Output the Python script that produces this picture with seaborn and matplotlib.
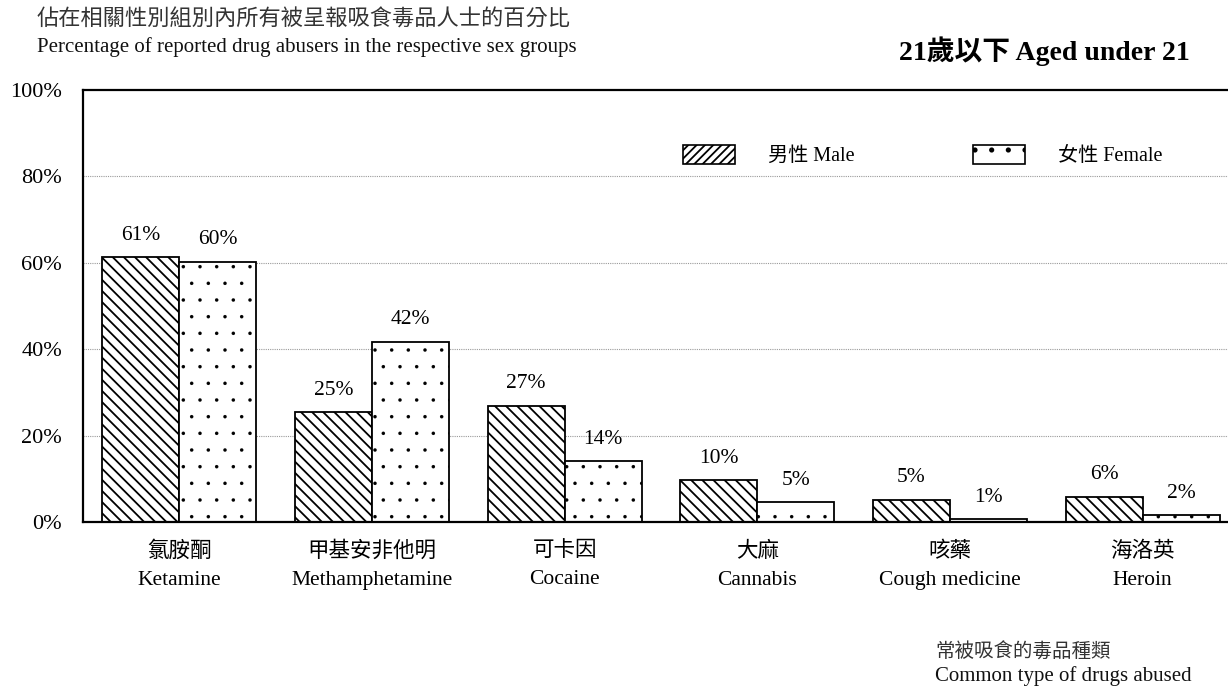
import numpy as np
import pandas as pd
import matplotlib
matplotlib.use("Agg")
import matplotlib.pyplot as plt
from matplotlib.patches import Patch
import seaborn as sns

# Drug categories (Chinese name / English name)
drugs_zh = ["氯胺酮", "甲基安非他明", "可卡因", "大麻", "咳藥", "海洛英"]
drugs_en = ["Ketamine", "Methamphetamine", "Cocaine", "Cannabis", "Cough medicine", "Heroin"]

# Percentage of reported drug abusers aged under 21, by sex
male_pct = [61.3, 25.4, 26.9, 9.7, 5.1, 5.8]
female_pct = [60.2, 41.7, 14.1, 4.6, 0.6, 1.6]

sex_labels = ["男性 Male", "女性 Female"]
y_ticks = [0, 20, 40, 60, 80, 100]

sns.set_theme(style="white")
plt.rcParams["font.family"] = ["Liberation Serif", "Noto Sans CJK TC", "DejaVu Sans"]
plt.rcParams["text.color"] = "black"
plt.rcParams["hatch.linewidth"] = 1.3
plt.rcParams["hatch.color"] = "black"

categories = [f"{zh}\n{en}" for zh, en in zip(drugs_zh, drugs_en)]
df = pd.DataFrame({
    "drug": categories * 2,
    "sex": [sex_labels[0]] * len(categories) + [sex_labels[1]] * len(categories),
    "pct": male_pct + female_pct,
})

fig = plt.figure(figsize=(12.28, 6.86), dpi=100)
ax = fig.add_axes([83 / 1228, 1 - 522 / 686, (1239 - 83) / 1228, 432 / 686])

sns.barplot(data=df, x="drug", y="pct", hue="sex", order=categories,
            hue_order=sex_labels, palette=["white", "white"], edgecolor="black",
            linewidth=1.3, width=0.8, saturation=1, legend=False, ax=ax)


def style_hatch(artist, hatch, lw):
    artist.set_hatch(hatch)
    if hasattr(artist, "set_hatch_linewidth"):
        artist.set_hatch_linewidth(lw)
    else:
        artist._hatch_linewidth = lw


hatch_styles = [("\\\\\\", 1.3), (".", 0.1)]
for container, (hatch, lw) in zip(ax.containers, hatch_styles):
    for bar in container:
        style_hatch(bar, hatch, lw)
        bar.set_edgecolor("black")
    ax.bar_label(container, labels=[f"{v:.0f}%" for v in container.datavalues],
                 padding=9, fontsize=15.5, color="black")

ax.set_ylim(0, 100)
ax.set_xlim(-0.5, len(categories) - 0.5)
ax.set_yticks(y_ticks)
ax.set_yticklabels([f"{t}%" for t in y_ticks])
ax.tick_params(axis="y", direction="in", length=5, width=1.2, pad=15, labelsize=16,
               colors="black")
ax.tick_params(axis="x", length=0, pad=14, labelsize=15.5, labelcolor="black")
for lbl in ax.get_xticklabels():
    lbl.set_linespacing(1.65)
ax.set_xlabel("")
ax.set_ylabel("")

for t in y_ticks[1:-1]:
    ax.axhline(t, color="#9a9a9a", linestyle=(0, (1, 1)), linewidth=0.8, zorder=0)

for side in ["left", "top", "bottom"]:
    ax.spines[side].set_visible(True)
    ax.spines[side].set_color("black")
    ax.spines[side].set_linewidth(1.6)
ax.spines["right"].set_visible(False)

male_handle = Patch(facecolor="white", edgecolor="black", linewidth=1.2)
female_handle = Patch(facecolor="white", edgecolor="black", linewidth=1.2)
style_hatch(male_handle, "////", 1.1)
style_hatch(female_handle, ".", 0.1)
ax.legend([male_handle, female_handle], sex_labels, loc="upper left",
          bbox_to_anchor=(683 / 1228, 1 - 145 / 686), bbox_transform=fig.transFigure,
          ncol=2, frameon=False, fontsize=14.5, handlelength=2.6, handleheight=1.05,
          handletextpad=1.6, columnspacing=5.9, borderpad=0, borderaxespad=0)

fig.text(37 / 1228, 1 - 20 / 686, "佔在相關性別組別內所有被呈報吸食毒品人士的百分比",
         fontsize=16, va="center", ha="left", color="#333333")
fig.text(37 / 1228, 1 - 47 / 686, "Percentage of reported drug abusers in the respective sex groups",
         fontsize=15, va="center", ha="left", color="#111111")
fig.text(1190 / 1228, 1 - 51 / 686, "21歲以下 Aged under 21", fontsize=20,
         fontweight="bold", va="center", ha="right", color="black")
fig.text(935 / 1228, 1 - 652 / 686, "常被吸食的毒品種類", fontsize=14,
         va="center", ha="left", color="#333333")
fig.text(935 / 1228, 1 - 676 / 686, "Common type of drugs abused", fontsize=15,
         va="center", ha="left", color="#111111")

fig.savefig("out.png", dpi=100, facecolor="white")
